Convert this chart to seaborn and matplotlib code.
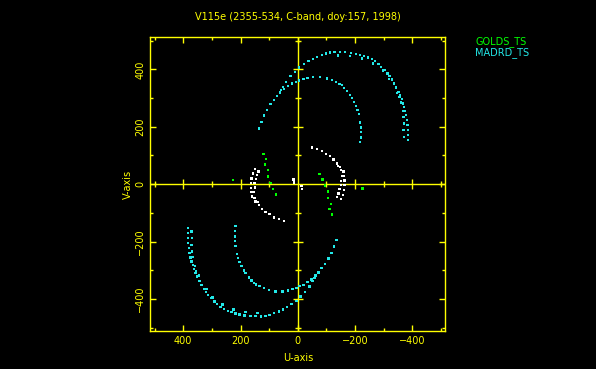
import numpy as np
import pandas as pd
import matplotlib
matplotlib.use("Agg")
import matplotlib.pyplot as plt
import seaborn as sns

# ---- data (one half of the uv plane; the other half is the
# ---- complex-conjugate (-u, -v) of each point, as in every uv-coverage plot)
madrid_outer_u = [135.5, 126.1, 117.0, 106.6, 94.7, 83.1, 71.6, 58.7, 50.7, 41.2, 24.8, 9.8,
                  -5.2, -21.7, -36.7, -52.1, -66.0, -83.5, -98.5, -112.5, -127.5, -147.4,
                  -164.9, -185.9, -203.3, -217.3, -231.3, -244.2, -258.2, -269.7, -281.2,
                  -290.7, -302.2, -312.7, -319.7, -328.0, -336.1, -343.1, -351.1, -357.0,
                  -363.0, -366.5, -371.0, -374.5, -378.0, -380.4, -382.5, -383.9, -383.9,
                  -383.9]
madrid_outer_v = [194.5, 217.5, 239.8, 259.3, 279.2, 293.1, 308.1, 327.9, 338.4, 356.8, 376.7,
                  391.7, 407.0, 418.5, 428.9, 436.9, 443.9, 449.8, 455.8, 459.2, 461.3, 460.3,
                  460.3, 457.8, 454.4, 450.9, 446.3, 441.8, 435.9, 428.9, 418.5, 409.1, 397.6,
                  386.1, 376.7, 365.2, 351.3, 337.3, 322.0, 310.5, 296.6, 281.6, 269.8, 255.8,
                  240.8, 223.4, 206.0, 188.6, 171.2, 153.8]
madrid_outer2_u = [-140.4, -182.4, -224.3, -262.8, -297.6, -318.6, -345.5, -354.6, -359.5,
                   -366.5, -368.6, -371.0, -368.6, -371.0]
madrid_outer2_v = [448.6, 446.3, 437.6, 420.2, 395.8, 366.2, 318.5, 304.6, 285.1, 254.8,
                   234.9, 211.9, 188.6, 165.3]
madrid_inner_u = [62.2, 47.2, 33.2, 20.3, 6.3, -5.2, -19.2, -33.2, -54.1, -77.6, -101.0,
                  -118.4, -133.5, -145.0, -153.4, -161.4, -170.8, -182.4, -188.3, -196.3,
                  -203.3, -207.9, -212.8, -217.3, -219.7, -219.7, -219.7, -217.3]
madrid_inner_v = [319.2, 332.5, 341.9, 351.3, 355.8, 361.7, 366.2, 370.8, 374.2, 374.2, 368.7,
                  362.8, 355.8, 349.9, 345.3, 335.9, 325.5, 310.5, 301.1, 286.1, 272.2, 258.3,
                  244.3, 215.4, 198.0, 182.7, 163.2, 146.8]
golds_u = [-75.1, -86.3, -95.0, -104.5, -104.5, -114.9, -110.7, -119.5, -225.3]
golds_v = [35.4, 16.9, -4.7, -26.3, -49.3, -69.1, -87.6, -105.7, -15.2]
other_u = [-48.6, -66.0, -83.5, -98.5, -112.5, -124.0, -135.9, -147.4, -159.0, -161.4, -163.1,
           -162.4, -161.4, -156.9, -149.9, -140.4, -150.9, -153.4, -149.9, -150.9, -145.0,
           -141.5, -136.9, 15.0, 13.3]
other_v = [128.3, 122.4, 116.5, 105.0, 98.0, 86.6, 72.6, 60.8, 43.4, 28.4, 12.7, -3.0, -20.4,
           -37.8, -52.8, 63.2, 49.3, 28.4, 12.0, -3.0, -17.9, -31.9, -44.8, 16.2, 5.7]

station_labels = ["GOLDS_TS", "MADRD_TS"]
title_text = "V115e (2355-534, C-band, doy:157, 1998)"
major_ticks = [400, 200, 0, -200, -400]
minor_ticks = [500, 300, 100, -100, -300, -500]

YELLOW = "#ffff00"
CYAN = "#22e8e8"
GREEN = "#00ff00"
WHITE = "#ffffff"

# ---- build table
frames = []
for us, vs, grp in [(madrid_outer_u, madrid_outer_v, "MADRD_TS"),
                    (madrid_outer2_u, madrid_outer2_v, "MADRD_TS"),
                    (madrid_inner_u, madrid_inner_v, "MADRD_TS"),
                    (golds_u, golds_v, "GOLDS_TS"),
                    (other_u, other_v, "other")]:
    u = np.array(us, float)
    v = np.array(vs, float)
    frames.append(pd.DataFrame({"U": np.concatenate([u, -u]),
                                "V": np.concatenate([v, -v]),
                                "group": grp}))
df = pd.concat(frames, ignore_index=True)

# ---- figure
fig = plt.figure(figsize=(5.96, 3.69), dpi=100, facecolor="black")
ax = fig.add_axes([150.3 / 596, 1 - 331 / 369, 295 / 596, 293.7 / 369])
ax.set_facecolor("black")

sns.scatterplot(data=df, x="U", y="V", hue="group",
                palette={"MADRD_TS": CYAN, "GOLDS_TS": GREEN, "other": WHITE},
                marker="s", s=3.0, linewidth=0, legend=False, ax=ax, zorder=3)

ax.set_xlim(515, -515)
ax.set_ylim(-512, 512)

# zero lines with crossing ticks
ax.axhline(0, color=YELLOW, lw=1.0, zorder=2)
ax.axvline(0, color=YELLOW, lw=1.0, zorder=2)
mj = [t for t in major_ticks if t != 0]
ax.plot(mj, [0] * len(mj), ls="none", marker="|", ms=7, mew=1.0, color=YELLOW, zorder=2)
ax.plot(minor_ticks, [0] * len(minor_ticks), ls="none", marker="|", ms=4.5, mew=1.0,
        color=YELLOW, zorder=2)
ax.plot([0] * len(mj), mj, ls="none", marker="_", ms=7, mew=1.0, color=YELLOW, zorder=2)
ax.plot([0] * len(minor_ticks), minor_ticks, ls="none", marker="_", ms=4.5, mew=1.0,
        color=YELLOW, zorder=2)

for sp in ax.spines.values():
    sp.set_color(YELLOW)
    sp.set_linewidth(1.0)

fs = 7
ax.set_xticks(major_ticks)
ax.set_xticklabels([str(t).replace("-", "\u2212") for t in major_ticks])
ax.set_yticks(major_ticks)
ax.set_yticklabels([str(t).replace("-", "\u2212") for t in major_ticks],
                   rotation=90, va="center")
ax.set_xticks(minor_ticks, minor=True)
ax.set_yticks(minor_ticks, minor=True)
ax.tick_params(which="both", direction="in", top=True, right=True, colors=YELLOW,
               labelcolor=YELLOW, labelsize=fs, width=1.0)
ax.tick_params(which="major", length=4)
ax.tick_params(which="minor", length=2.2)
ax.tick_params(axis="x", which="major", pad=3.5)
ax.tick_params(axis="y", which="major", pad=3.5)
ax.set_xlabel("")
ax.set_ylabel("")

fig.text(297.8 / 596, 1 - 358 / 369, "U-axis", color=YELLOW, fontsize=fs,
         ha="center", va="center")
fig.text(128 / 596, 1 - 184 / 369, "V-axis", color=YELLOW, fontsize=fs,
         ha="center", va="center", rotation=90)
fig.text(298 / 596, 1 - 17 / 369, title_text, color=YELLOW, fontsize=fs,
         ha="center", va="center")
fig.text(475 / 596, 1 - 41.5 / 369, station_labels[0], color=GREEN, fontsize=fs,
         ha="left", va="center")
fig.text(475 / 596, 1 - 52.5 / 369, station_labels[1], color=CYAN, fontsize=fs,
         ha="left", va="center")

fig.savefig("out.png", dpi=100, facecolor="black")
